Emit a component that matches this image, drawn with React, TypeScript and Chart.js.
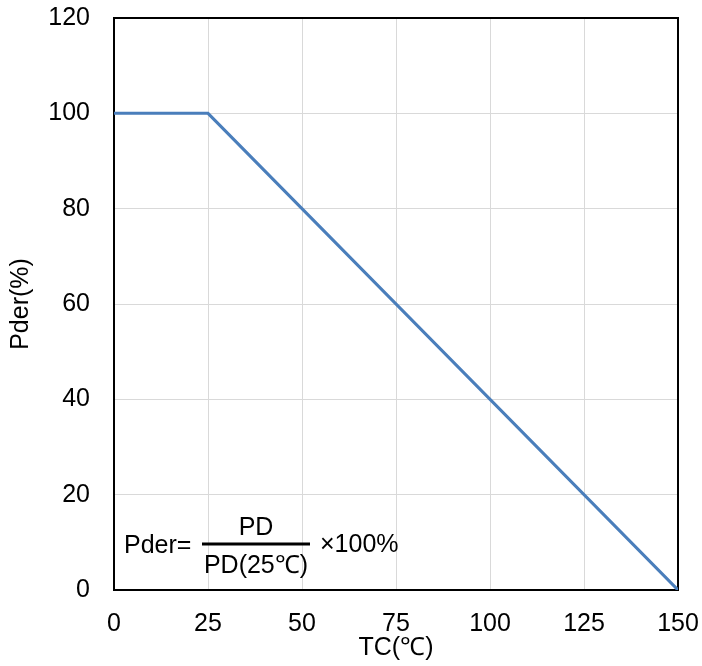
import React, { useEffect, useRef } from "react";
import { Chart, registerables } from "chart.js";

Chart.register(...registerables);

const temperatures = [0, 25, 150];
const pderValues = [100, 100, 0];
const xTickStep = 25;
const yTickStep = 20;
const xTitle = "TC(℃)";
const yTitle = "Pder(%)";

const FONT = '"Liberation Sans", Arial, sans-serif';

const boxPlugin = {
  id: "boxPlugin",
  beforeDatasetsDraw(chart: any) {
    const { ctx, chartArea } = chart;
    ctx.save();
    ctx.strokeStyle = "#000000";
    ctx.lineWidth = 2;
    ctx.strokeRect(chartArea.left, chartArea.top, chartArea.right - chartArea.left, chartArea.bottom - chartArea.top);
    ctx.restore();
  },
};

const formulaPlugin = {
  id: "formulaPlugin",
  afterDraw(chart: any) {
    const { ctx, chartArea } = chart;
    const l = chartArea.left;
    const b = chartArea.bottom;
    ctx.save();
    ctx.fillStyle = "#000000";
    ctx.font = `25px ${FONT}`;
    ctx.textBaseline = "alphabetic";
    ctx.textAlign = "left";
    ctx.fillText("Pder=", l + 10, b - 37);
    ctx.strokeStyle = "#000000";
    ctx.lineWidth = 3;
    ctx.beginPath();
    ctx.moveTo(l + 88, b - 46);
    ctx.lineTo(l + 196, b - 46);
    ctx.stroke();
    ctx.textAlign = "center";
    ctx.fillText("PD", l + 142, b - 55);
    ctx.fillText("PD(25℃)", l + 142, b - 17);
    ctx.textAlign = "left";
    ctx.fillText("×100%", l + 206, b - 38);
    ctx.restore();
  },
};

function zeroPadding(scale: any) {
  scale.paddingTop = 0;
  scale.paddingBottom = 0;
  scale.paddingLeft = 0;
  scale.paddingRight = 0;
}

export default function App() {
  const canvasRef = useRef<HTMLCanvasElement | null>(null);

  useEffect(() => {
    document.body.style.margin = "0";
    const canvas = canvasRef.current;
    if (!canvas) return;
    const chart = new Chart(canvas, {
      type: "line",
      data: {
        datasets: [
          {
            data: temperatures.map((t, i) => ({ x: t, y: pderValues[i] })),
            borderColor: "#4A7EBB",
            borderWidth: 3,
            pointRadius: 0,
            fill: false,
            tension: 0,
          },
        ],
      },
      options: {
        animation: false,
        responsive: false,
        maintainAspectRatio: false,
        layout: { padding: { top: 18, right: 24, left: 0, bottom: 0 } },
        plugins: {
          legend: { display: false },
          tooltip: { enabled: false },
        },
        scales: {
          x: {
            type: "linear",
            min: 0,
            max: 150,
            ticks: { stepSize: xTickStep, color: "#000000", font: { family: FONT, size: 25 }, padding: 19, maxRotation: 0 },
            grid: { color: "#D9D9D9", lineWidth: 1, drawTicks: false },
            border: { display: false },
            title: { display: true, text: xTitle, color: "#000000", font: { family: FONT, size: 25 }, padding: { top: 0, bottom: 3 } },
            afterFit(scale: any) {
              scale.height = 76;
              zeroPadding(scale);
            },
          },
          y: {
            type: "linear",
            min: 0,
            max: 120,
            ticks: { stepSize: yTickStep, color: "#000000", font: { family: FONT, size: 25 }, padding: 24 },
            grid: { color: "#D9D9D9", lineWidth: 1, drawTicks: false },
            border: { display: false },
            title: { display: true, text: yTitle, color: "#000000", font: { family: FONT, size: 25 }, padding: { top: 6, bottom: 0 } },
            afterFit(scale: any) {
              scale.width = 114;
              zeroPadding(scale);
            },
          },
        },
      },
      plugins: [boxPlugin, formulaPlugin],
    });
    return () => chart.destroy();
  }, []);

  return <canvas ref={canvasRef} width={702} height={666} style={{ display: "block", width: 702, height: 666 }} />;
}
